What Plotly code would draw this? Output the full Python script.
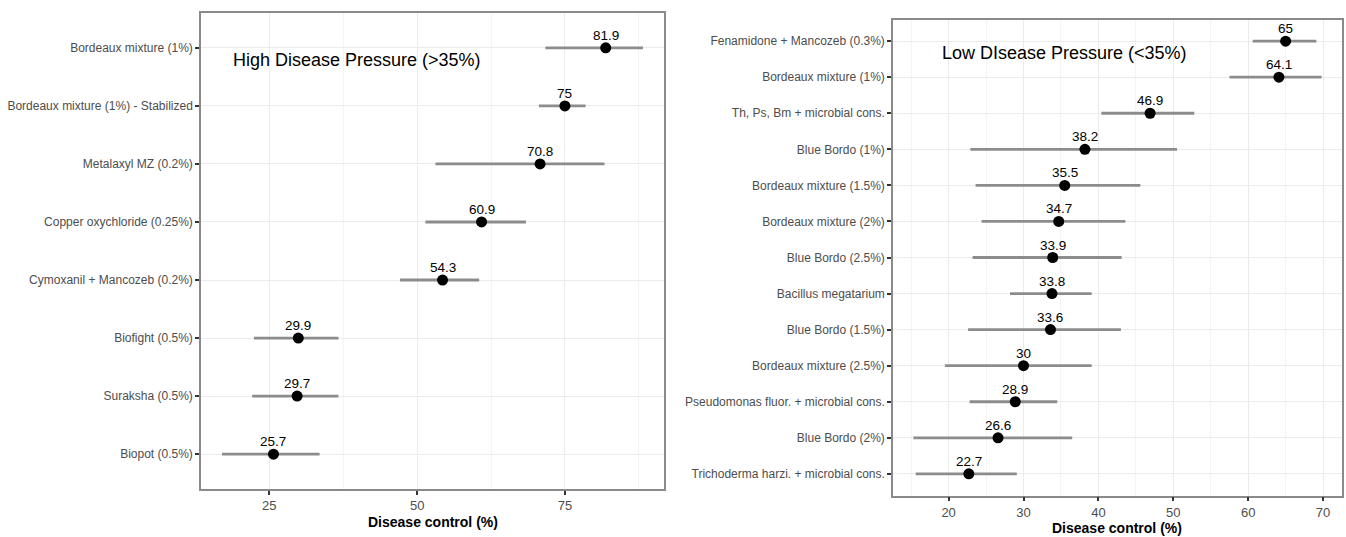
import plotly.graph_objects as go

# ---------------- data ----------------
high_treat = ["Bordeaux mixture (1%)", "Bordeaux mixture (1%) - Stabilized", "Metalaxyl MZ (0.2%)",
              "Copper oxychloride (0.25%)", "Cymoxanil + Mancozeb (0.2%)", "Biofight (0.5%)",
              "Suraksha (0.5%)", "Biopot (0.5%)"]
high_mean = [81.9, 75, 70.8, 60.9, 54.3, 29.9, 29.7, 25.7]
high_lower = [71.7, 70.6, 53.1, 51.4, 47.1, 22.4, 22.1, 17.0]
high_upper = [88.2, 78.5, 81.7, 68.4, 60.5, 36.7, 36.7, 33.5]

low_treat = ["Fenamidone + Mancozeb (0.3%)", "Bordeaux mixture (1%)", "Th, Ps, Bm + microbial cons.",
             "Blue Bordo (1%)", "Bordeaux mixture (1.5%)", "Bordeaux mixture (2%)", "Blue Bordo (2.5%)",
             "Bacillus megatarium", "Blue Bordo (1.5%)", "Bordeaux mixture (2.5%)",
             "Pseudomonas fluor. + microbial cons.", "Blue Bordo (2%)", "Trichoderma harzi. + microbial cons."]
low_mean = [65, 64.1, 46.9, 38.2, 35.5, 34.7, 33.9, 33.8, 33.6, 30, 28.9, 26.6, 22.7]
low_lower = [60.6, 57.5, 40.4, 22.9, 23.6, 24.4, 23.2, 28.2, 22.6, 19.5, 22.8, 15.3, 15.6]
low_upper = [69.1, 69.8, 52.8, 50.5, 45.6, 43.6, 43.1, 39.1, 43.0, 39.1, 34.5, 36.5, 29.1]

high_ticks = [25, 50, 75]
low_ticks = [20, 30, 40, 50, 60, 70]

W, H = 1346, 537
FONT = "Liberation Sans, Arial, sans-serif"
GRID_MAJ = "#EBEBEB"
GRID_MIN = "#F4F4F4"
FRAME = "#8A8A8A"

fig = go.Figure()
annotations = []


def add_panel(treat, mean, lower, upper, xa, ya):
    n = len(treat)
    ys = list(range(1, n + 1))
    fig.add_trace(go.Scatter(
        x=mean, y=ys, xaxis=xa, yaxis=ya, mode="markers",
        marker=dict(color="black", size=11),
        error_x=dict(type="data", symmetric=False,
                     array=[u - m for u, m in zip(upper, mean)],
                     arrayminus=[m - l for l, m in zip(lower, mean)],
                     color="#8C8C8C", thickness=2.8, width=0),
        showlegend=False, cliponaxis=False, hoverinfo="x+y",
    ))
    for m, yy in zip(mean, ys):
        annotations.append(dict(
            x=m, y=yy, xref=xa, yref=ya, text=f"{m:g}", showarrow=False,
            xanchor="center", yanchor="middle", yshift=12.5,
            font=dict(family=FONT, size=13.5, color="black")))


add_panel(high_treat, high_mean, high_lower, high_upper, "x", "y")
add_panel(low_treat, low_mean, low_lower, low_upper, "x2", "y2")


def xrange(lower, upper):
    lo, hi = min(lower), max(upper)
    pad = (hi - lo) * 0.05
    return [lo - pad, hi + pad]


common_x = dict(showline=True, mirror=True, linecolor=FRAME, linewidth=1.5,
                ticks="outside", ticklen=4, tickwidth=1.5, tickcolor="#333333",
                tickfont=dict(family=FONT, size=13, color="#4D4D4D"),
                showgrid=True, gridcolor=GRID_MAJ, gridwidth=1.2, zeroline=False,
                automargin=False)
common_y = dict(showline=True, mirror=True, linecolor=FRAME, linewidth=1.5,
                ticks="outside", ticklen=4, tickwidth=1.5, tickcolor="#333333",
                tickfont=dict(family=FONT, size=12, color="#4D4D4D"),
                showgrid=True, gridcolor=GRID_MAJ, gridwidth=1.2, zeroline=False,
                automargin=False)

annotations += [
    dict(text="High Disease Pressure (>35%)", xref="paper", yref="paper",
         x=231 / W, y=1 - 60 / H, xanchor="left", yanchor="middle", showarrow=False,
         font=dict(family=FONT, size=18, color="black")),
    dict(text="Low DIsease Pressure (<35%)", xref="paper", yref="paper",
         x=940 / W, y=1 - 53 / H, xanchor="left", yanchor="middle", showarrow=False,
         font=dict(family=FONT, size=18, color="black")),
    dict(text="<b>Disease control (%)</b>", xref="paper", yref="paper",
         x=433 / W, y=1 - 522 / H, xanchor="center", yanchor="middle", showarrow=False,
         font=dict(family=FONT, size=14, color="black")),
    dict(text="<b>Disease control (%)</b>", xref="paper", yref="paper",
         x=1117 / W, y=1 - 528 / H, xanchor="center", yanchor="middle", showarrow=False,
         font=dict(family=FONT, size=14, color="black")),
]

fig.update_layout(
    width=W, height=H, margin=dict(l=0, r=0, t=0, b=0, autoexpand=False),
    paper_bgcolor="white", plot_bgcolor="white",
    xaxis=dict(domain=[201 / W, 664 / W], range=xrange(high_lower, high_upper),
               tickvals=high_ticks, anchor="y",
               minor=dict(showgrid=True, gridcolor=GRID_MIN, gridwidth=0.8, tick0=0, dtick=12.5),
               **common_x),
    yaxis=dict(domain=[1 - 489 / H, 1 - 13 / H], range=[len(high_treat) + 0.6, 0.4],
               tickvals=list(range(1, len(high_treat) + 1)), ticktext=high_treat, anchor="x",
               **common_y),
    xaxis2=dict(domain=[893 / W, 1342 / W], range=xrange(low_lower, low_upper),
                tickvals=low_ticks, anchor="y2",
                minor=dict(showgrid=True, gridcolor=GRID_MIN, gridwidth=0.8, tick0=0, dtick=5),
                **common_x),
    yaxis2=dict(domain=[1 - 495.5 / H, 1 - 19.5 / H], range=[len(low_treat) + 0.6, 0.4],
                tickvals=list(range(1, len(low_treat) + 1)), ticktext=low_treat, anchor="x2",
                **common_y),
    annotations=annotations,
)

fig.write_html("out.html")
